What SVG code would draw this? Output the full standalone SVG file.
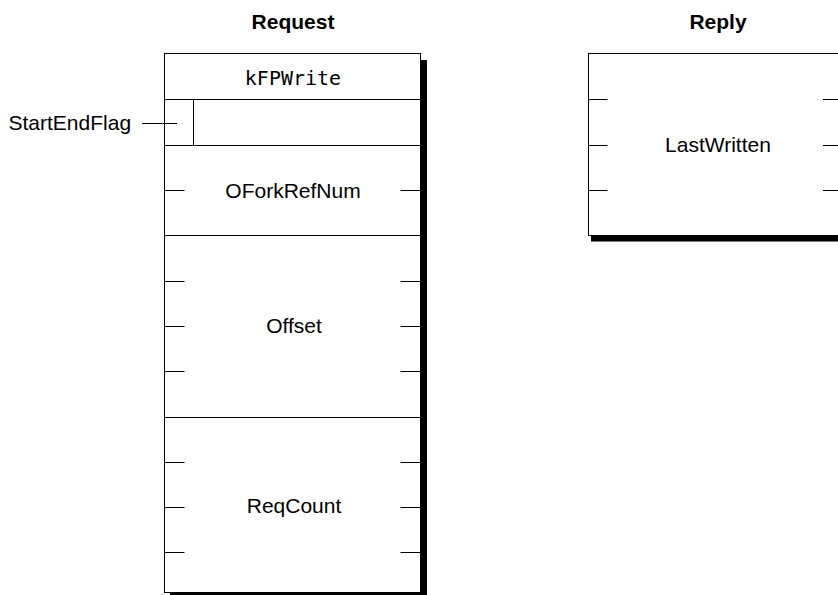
<svg xmlns="http://www.w3.org/2000/svg" width="838" height="595" viewBox="0 0 838 595">
<style>
.box{fill:#fff;stroke:#000;stroke-width:1}
.shadow{fill:#000}
.ln{stroke:#000;stroke-width:1;fill:none}
.t{font-family:"Liberation Sans",Arial,sans-serif;font-size:21px;fill:#000;text-anchor:middle}
.title{font-family:"Liberation Sans",Arial,sans-serif;font-size:21px;font-weight:bold;fill:#000;text-anchor:middle}
.mono{font-family:"DejaVu Sans Mono","Liberation Mono",monospace;font-size:20px;fill:#000;text-anchor:middle}
</style>
<rect width="838" height="595" fill="#fff"/>
<g id="request">
  <text class="title" x="293" y="29">Request</text>
  <rect class="shadow" x="170" y="60" width="257" height="540"/>
  <rect class="box" x="164.5" y="53.5" width="256" height="539"/>
  <g id="kFPWrite">
    <text class="mono" x="293" y="85">kFPWrite</text>
    <line class="ln" x1="164.5" y1="99.5" x2="420.5" y2="99.5"/>
  </g>
  <g id="StartEndFlagRow">
    <line class="ln" x1="193.5" y1="99.5" x2="193.5" y2="145.5"/>
    <line class="ln" x1="164.5" y1="145.5" x2="420.5" y2="145.5"/>
  </g>
  <g id="OForkRefNum">
    <text class="t" x="293" y="198">OForkRefNum</text>
    <line class="ln" x1="164.5" y1="190.5" x2="184.5" y2="190.5"/>
    <line class="ln" x1="400.5" y1="190.5" x2="420.5" y2="190.5"/>
    <line class="ln" x1="164.5" y1="235.5" x2="420.5" y2="235.5"/>
  </g>
  <g id="Offset">
    <text class="t" x="294" y="333">Offset</text>
    <path class="ln" d="M164.5 281.5h20M164.5 326.5h20M164.5 371.5h20M400.5 281.5h20M400.5 326.5h20M400.5 371.5h20"/>
    <line class="ln" x1="164.5" y1="417.5" x2="420.5" y2="417.5"/>
  </g>
  <g id="ReqCount">
    <text class="t" x="294" y="513">ReqCount</text>
    <path class="ln" d="M164.5 462.5h20M164.5 507.5h20M164.5 552.5h20M400.5 462.5h20M400.5 507.5h20M400.5 552.5h20"/>
  </g>
</g>
<g id="reply">
  <text class="title" x="718" y="29">Reply</text>
  <rect class="shadow" x="591" y="60" width="260" height="181.5"/>
  <rect class="box" x="588.5" y="53.5" width="256" height="182"/>
  <g id="LastWritten">
    <text class="t" x="718" y="152">LastWritten</text>
    <path class="ln" d="M588.5 99.5h19M588.5 145.5h19M588.5 190.5h19M823 99.5h22M823 145.5h22M823 190.5h22"/>
  </g>
</g>
<g id="StartEndFlag">
  <text class="t" x="8.5" y="129.5" style="text-anchor:start">StartEndFlag</text>
</g>
<g id="connectors">
  <line class="ln" x1="142" y1="123.5" x2="177" y2="123.5"/>
</g>
</svg>
